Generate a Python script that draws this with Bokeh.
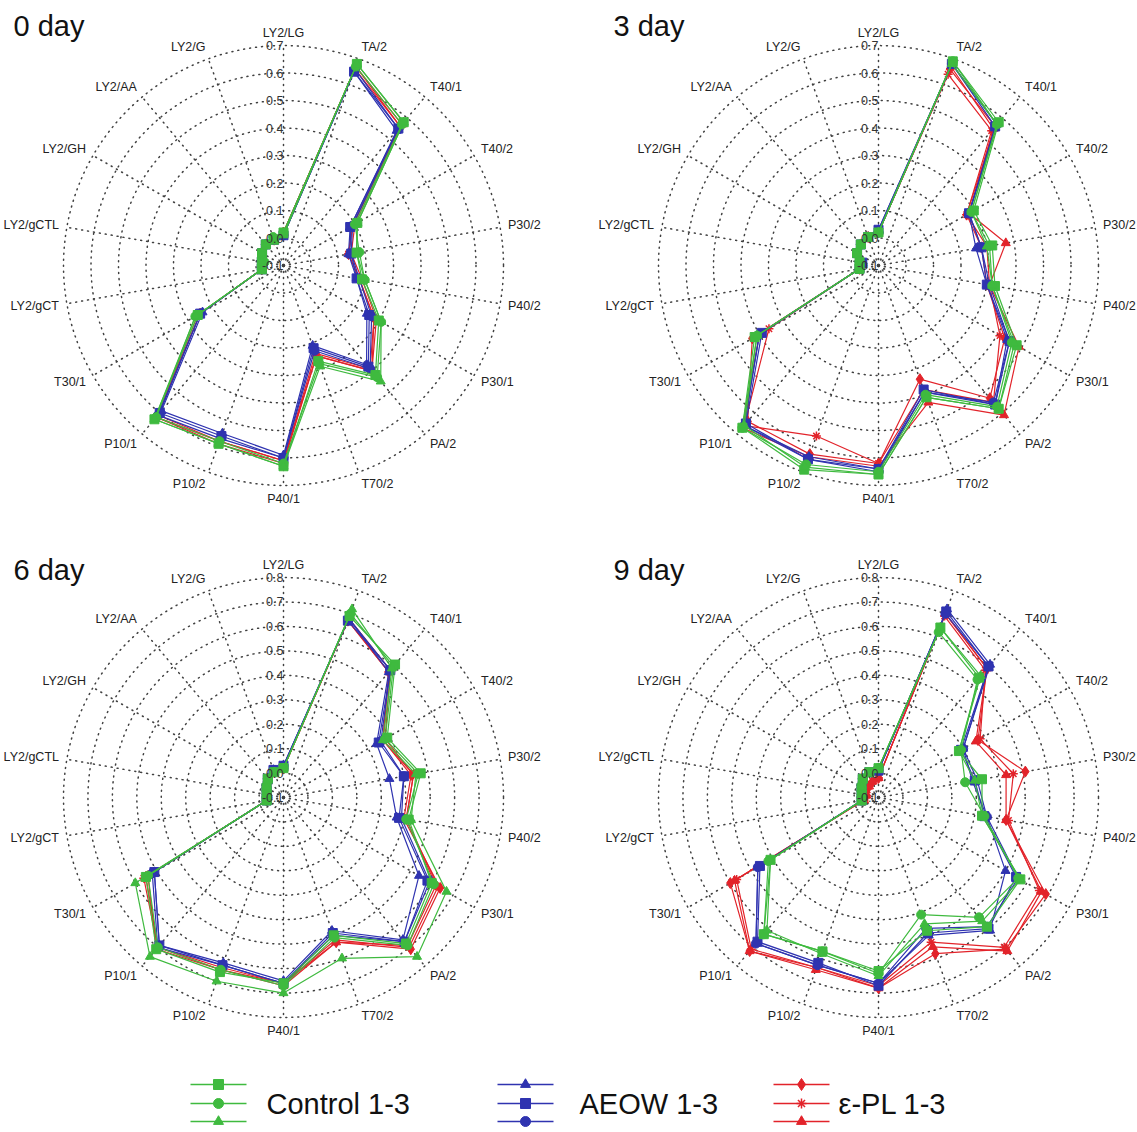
import math
from bokeh.plotting import figure
from bokeh.models import Range1d, Label
from bokeh.layouts import column, row
from bokeh.embed import file_html
from bokeh.resources import INLINE
from bokeh.core.properties import value

# ---------------- data ----------------
AXES = ["LY2/LG", "TA/2", "T40/1", "T40/2", "P30/2", "P40/2", "P30/1", "PA/2",
        "T70/2", "P40/1", "P10/2", "P10/1", "T30/1", "LY2/gCT", "LY2/gCTL",
        "LY2/GH", "LY2/AA", "LY2/G"]

TICKS_A = [-0.1, 0.0, 0.1, 0.2, 0.3, 0.4, 0.5, 0.6, 0.7]
TICK_LABELS_A = ["-0.1", "0.0", "0.1", "0.2", "0.3", "0.4", "0.5", "0.6", "0.7"]
TICKS_B = [-0.1, 0.0, 0.1, 0.2, 0.3, 0.4, 0.5, 0.6, 0.7, 0.8]
TICK_LABELS_B = ["-0.1", "0.0", "0.1", "0.2", "0.3", "0.4", "0.5", "0.6", "0.7", "0.8"]

SERIES_NAMES = ["Control 1", "Control 2", "Control 3", "AEOW 1", "AEOW 2", "AEOW 3",
                "ε-PL 1", "ε-PL 2", "ε-PL 3"]

# day 0
d0_ctrl1 = [0.02, 0.68, 0.58, 0.21, 0.17, 0.19, 0.30, 0.42, 0.27, 0.63, 0.59, 0.63, 0.26, -0.02, -0.02, -0.01, 0.00, 0.00]
d0_ctrl2 = [0.02, 0.67, 0.57, 0.20, 0.18, 0.20, 0.31, 0.43, 0.28, 0.62, 0.58, 0.62, 0.27, -0.02, -0.03, -0.01, 0.00, 0.01]
d0_ctrl3 = [0.01, 0.68, 0.58, 0.21, 0.17, 0.20, 0.31, 0.45, 0.29, 0.63, 0.59, 0.63, 0.27, -0.02, -0.02, -0.01, 0.00, 0.00]
d0_aeow1 = [0.01, 0.65, 0.54, 0.18, 0.14, 0.17, 0.25, 0.37, 0.21, 0.59, 0.55, 0.59, 0.24, -0.02, -0.02, -0.01, 0.00, 0.00]
d0_aeow2 = [0.01, 0.65, 0.55, 0.18, 0.15, 0.17, 0.26, 0.38, 0.22, 0.60, 0.56, 0.60, 0.25, -0.02, -0.02, -0.01, 0.00, 0.00]
d0_aeow3 = [0.01, 0.66, 0.55, 0.19, 0.15, 0.18, 0.27, 0.39, 0.23, 0.60, 0.57, 0.61, 0.25, -0.02, -0.02, -0.01, 0.00, 0.00]
d0_epl1 = [0.02, 0.67, 0.56, 0.19, 0.14, 0.18, 0.28, 0.39, 0.24, 0.61, 0.58, 0.61, 0.25, -0.02, -0.02, -0.01, 0.00, 0.00]
d0_epl2 = [0.02, 0.66, 0.56, 0.19, 0.14, 0.18, 0.28, 0.40, 0.25, 0.61, 0.58, 0.62, 0.25, -0.02, -0.02, -0.01, 0.00, 0.00]
d0_epl3 = [0.02, 0.67, 0.57, 0.20, 0.15, 0.19, 0.29, 0.40, 0.25, 0.62, 0.59, 0.62, 0.26, -0.02, -0.02, -0.01, 0.00, 0.00]

# day 3
d3_ctrl1 = [0.02, 0.69, 0.58, 0.30, 0.32, 0.33, 0.48, 0.58, 0.41, 0.66, 0.69, 0.67, 0.42, -0.03, -0.03, -0.01, 0.00, 0.01]
d3_ctrl2 = [0.02, 0.69, 0.57, 0.29, 0.31, 0.32, 0.46, 0.57, 0.40, 0.65, 0.67, 0.67, 0.41, -0.03, -0.03, -0.01, 0.00, 0.01]
d3_ctrl3 = [0.02, 0.68, 0.57, 0.29, 0.30, 0.32, 0.47, 0.58, 0.41, 0.66, 0.68, 0.66, 0.41, -0.03, -0.03, -0.01, 0.00, 0.01]
d3_aeow1 = [0.03, 0.68, 0.57, 0.28, 0.26, 0.30, 0.44, 0.56, 0.39, 0.64, 0.64, 0.66, 0.40, -0.03, -0.04, -0.01, 0.00, 0.01]
d3_aeow2 = [0.03, 0.68, 0.56, 0.28, 0.28, 0.30, 0.45, 0.56, 0.38, 0.64, 0.65, 0.65, 0.39, -0.03, -0.04, -0.01, 0.00, 0.01]
d3_aeow3 = [0.02, 0.68, 0.57, 0.28, 0.28, 0.31, 0.45, 0.55, 0.39, 0.65, 0.65, 0.66, 0.40, -0.03, -0.03, -0.01, 0.00, 0.01]
d3_epl1 = [0.02, 0.66, 0.56, 0.27, 0.28, 0.30, 0.43, 0.53, 0.34, 0.62, 0.63, 0.64, 0.43, -0.03, -0.03, -0.01, 0.00, 0.01]
d3_epl2 = [0.02, 0.64, 0.54, 0.27, 0.30, 0.31, 0.41, 0.55, 0.38, 0.62, 0.56, 0.66, 0.36, -0.03, -0.03, -0.01, 0.00, 0.01]
d3_epl3 = [0.02, 0.67, 0.55, 0.28, 0.37, 0.31, 0.49, 0.61, 0.43, 0.63, 0.64, 0.67, 0.40, -0.03, -0.03, -0.01, 0.00, 0.01]

# day 6
d6_ctrl1 = [0.02, 0.69, 0.61, 0.39, 0.47, 0.42, 0.60, 0.68, 0.50, 0.66, 0.66, 0.71, 0.55, -0.03, -0.03, -0.02, 0.00, 0.01]
d6_ctrl2 = [0.02, 0.70, 0.60, 0.38, 0.46, 0.41, 0.61, 0.69, 0.51, 0.67, 0.65, 0.70, 0.54, -0.03, -0.03, -0.02, 0.00, 0.01]
d6_ctrl3 = [0.02, 0.72, 0.59, 0.37, 0.45, 0.43, 0.67, 0.75, 0.60, 0.70, 0.70, 0.75, 0.60, -0.03, -0.03, -0.02, 0.00, 0.01]
d6_aeow1 = [0.03, 0.68, 0.57, 0.34, 0.34, 0.37, 0.54, 0.66, 0.48, 0.65, 0.62, 0.69, 0.51, -0.03, -0.03, -0.02, 0.00, 0.02]
d6_aeow2 = [0.03, 0.67, 0.58, 0.35, 0.40, 0.38, 0.58, 0.67, 0.49, 0.66, 0.63, 0.69, 0.51, -0.03, -0.03, -0.02, 0.00, 0.02]
d6_aeow3 = [0.03, 0.68, 0.58, 0.36, 0.40, 0.39, 0.59, 0.67, 0.50, 0.66, 0.63, 0.70, 0.52, -0.03, -0.03, -0.02, 0.00, 0.02]
d6_epl1 = [0.02, 0.67, 0.57, 0.37, 0.43, 0.40, 0.64, 0.71, 0.53, 0.66, 0.64, 0.70, 0.55, -0.03, -0.03, -0.02, 0.00, 0.01]
d6_epl2 = [0.02, 0.67, 0.57, 0.37, 0.44, 0.41, 0.63, 0.70, 0.52, 0.66, 0.65, 0.70, 0.56, -0.03, -0.03, -0.02, 0.00, 0.01]
d6_epl3 = [0.02, 0.68, 0.58, 0.38, 0.44, 0.41, 0.62, 0.69, 0.53, 0.67, 0.65, 0.71, 0.54, -0.03, -0.03, -0.02, 0.00, 0.01]

# day 9
d9_ctrl1 = [0.02, 0.64, 0.54, 0.28, 0.33, 0.33, 0.57, 0.59, 0.48, 0.61, 0.57, 0.63, 0.41, -0.03, -0.03, -0.02, 0.00, 0.01]
d9_ctrl2 = [0.02, 0.62, 0.53, 0.29, 0.26, 0.34, 0.56, 0.54, 0.41, 0.62, 0.57, 0.63, 0.42, -0.03, -0.03, -0.02, 0.00, 0.01]
d9_ctrl3 = [0.02, 0.64, 0.55, 0.28, 0.30, 0.33, 0.57, 0.56, 0.45, 0.63, 0.58, 0.61, 0.41, -0.03, -0.03, -0.02, 0.00, 0.01]
d9_aeow1 = [0.01, 0.72, 0.61, 0.30, 0.29, 0.35, 0.50, 0.61, 0.50, 0.66, 0.63, 0.68, 0.47, -0.03, -0.03, -0.02, 0.00, 0.01]
d9_aeow2 = [0.01, 0.71, 0.60, 0.29, 0.30, 0.34, 0.55, 0.60, 0.49, 0.67, 0.62, 0.67, 0.46, -0.03, -0.03, -0.02, 0.00, 0.01]
d9_aeow3 = [0.01, 0.70, 0.60, 0.30, 0.31, 0.35, 0.56, 0.59, 0.47, 0.66, 0.63, 0.68, 0.47, -0.03, -0.03, -0.02, 0.00, 0.01]
d9_epl1 = [-0.02, 0.70, 0.59, 0.37, 0.51, 0.43, 0.69, 0.71, 0.58, 0.68, 0.64, 0.72, 0.60, -0.04, -0.05, -0.04, -0.04, -0.03]
d9_epl2 = [-0.02, 0.69, 0.58, 0.38, 0.46, 0.44, 0.66, 0.70, 0.53, 0.67, 0.64, 0.71, 0.57, -0.04, -0.05, -0.04, -0.04, -0.03]
d9_epl3 = [-0.02, 0.70, 0.59, 0.36, 0.43, 0.43, 0.67, 0.72, 0.55, 0.68, 0.65, 0.72, 0.58, -0.04, -0.05, -0.04, -0.04, -0.03]

# ---------------- styling ----------------
GREEN = "#3fba3f"
BLUE = "#2f33b0"
RED = "#e2232a"
SERIES_COLORS = [GREEN, GREEN, GREEN, BLUE, BLUE, BLUE, RED, RED, RED]
SERIES_MARKERS = ["square", "circle", "triangle", "triangle", "square", "circle",
                  "diamond", "asterisk", "triangle"]
SERIES_SIZES = [9, 9, 9, 9, 9, 9, 11, 9, 9]
DRAW_ORDER = [6, 7, 8, 3, 4, 5, 0, 1, 2]
FONT = "Liberation Sans"
R_PX = 220.0


def make_panel(title, series, ticks, tick_labels, W, H, cx, cy, tx, ty):
    rmin = ticks[0]
    rmax = ticks[-1]
    span = rmax - rmin
    k = span / R_PX  # data units per pixel
    p = figure(width=W, height=H,
               x_range=Range1d(-cx * k, (W - cx) * k),
               y_range=Range1d(-(H - cy) * k, cy * k),
               output_backend="svg", toolbar_location=None,
               x_axis_location=None, y_axis_location=None,
               min_border=0, outline_line_color=None)
    p.xgrid.visible = False
    p.ygrid.visible = False
    p.background_fill_color = "white"
    p.border_fill_color = "white"

    n = len(AXES)
    ang = [2 * math.pi * i / n for i in range(n)]

    # rings
    ring_r = [t - rmin for t in ticks[1:]]
    p.circle(x=[0] * len(ring_r), y=[0] * len(ring_r), radius=ring_r,
             fill_color=None, line_color="#404040", line_dash="1 5",
             line_width=1.5, line_cap="round")
    # spokes
    p.segment(x0=[0] * n, y0=[0] * n,
              x1=[span * math.sin(a) for a in ang],
              y1=[span * math.cos(a) for a in ang],
              line_color="#404040", line_dash="1 5", line_width=1.5, line_cap="round")
    # small dashed circle at centre
    p.scatter(x=[0], y=[0], size=13, marker="circle", fill_color=None,
              line_color="#555555", line_dash="2 2", line_width=1)

    # data
    for i in DRAW_ORDER:
        vals = series[i]
        xs = [(v - rmin) * math.sin(a) for v, a in zip(vals, ang)]
        ys = [(v - rmin) * math.cos(a) for v, a in zip(vals, ang)]
        p.line(xs + [xs[0]], ys + [ys[0]], line_color=SERIES_COLORS[i], line_width=1.2)
        p.scatter(xs, ys, marker=SERIES_MARKERS[i], size=SERIES_SIZES[i],
                  fill_color=SERIES_COLORS[i], line_color=SERIES_COLORS[i],
                  line_width=1.5 if SERIES_MARKERS[i] == "asterisk" else 1)

    # ring tick labels along the top spoke
    p.text(x=[0] * len(ticks), y=[t - rmin for t in ticks], text=tick_labels,
           text_align="right", text_baseline="middle",
           text_font=value(FONT), text_font_size="12.5px", text_color="#333333")

    # axis labels
    lx, ly, la = [], [], []
    for a in ang:
        s, c = math.sin(a), math.cos(a)
        lx.append((span + 8 * k) * s)
        ly.append((span + 13 * k) * c)
        if s > 0.1:
            la.append("left")
        elif s < -0.1:
            la.append("right")
        else:
            la.append("center")
    p.text(x=lx, y=ly, text=AXES, text_align=la, text_baseline="middle",
           text_font=value(FONT), text_font_size="12.5px", text_color="#222222")

    p.add_layout(Label(x=tx, y=H - ty, x_units="screen", y_units="screen",
                       text=title, text_font=FONT, text_font_size="29px",
                       text_baseline="top", text_color="#111111"))
    return p


W_L, W_R = 588, 549
H_TOP, H_BOT, H_LEG = 540, 532, 59
p0 = make_panel("0 day", [d0_ctrl1, d0_ctrl2, d0_ctrl3, d0_aeow1, d0_aeow2, d0_aeow3, d0_epl1, d0_epl2, d0_epl3],
                TICKS_A, TICK_LABELS_A, W_L, H_TOP, 283, 265, 13, 9)
p3 = make_panel("3 day", [d3_ctrl1, d3_ctrl2, d3_ctrl3, d3_aeow1, d3_aeow2, d3_aeow3, d3_epl1, d3_epl2, d3_epl3],
                TICKS_A, TICK_LABELS_A, W_R, H_TOP, 290, 265, 25, 9)
p6 = make_panel("6 day", [d6_ctrl1, d6_ctrl2, d6_ctrl3, d6_aeow1, d6_aeow2, d6_aeow3, d6_epl1, d6_epl2, d6_epl3],
                TICKS_B, TICK_LABELS_B, W_L, H_BOT, 283, 257, 13, 13)
p9 = make_panel("9 day", [d9_ctrl1, d9_ctrl2, d9_ctrl3, d9_aeow1, d9_aeow2, d9_aeow3, d9_epl1, d9_epl2, d9_epl3],
                TICKS_B, TICK_LABELS_B, W_R, H_BOT, 290, 257, 25, 13)

# ---------------- legend ----------------
LW = W_L + W_R
pl = figure(width=LW, height=H_LEG, x_range=Range1d(0, LW), y_range=Range1d(H_LEG, 0),
            output_backend="svg", toolbar_location=None,
            x_axis_location=None, y_axis_location=None,
            min_border=0, outline_line_color=None)
pl.xgrid.visible = False
pl.ygrid.visible = False
group_x = [190, 497, 773]
text_x = [266, 579, 838]
group_labels = ["Control 1-3", "AEOW 1-3", "ε-PL 1-3"]
row_y = [12, 31, 49]
for g in range(3):
    x0 = group_x[g]
    for r in range(3):
        i = g * 3 + r
        pl.segment(x0=[x0], y0=[row_y[r]], x1=[x0 + 56], y1=[row_y[r]],
                   line_color=SERIES_COLORS[i], line_width=1.5)
        pl.scatter(x=[x0 + 28], y=[row_y[r]], marker=SERIES_MARKERS[i],
                   size=SERIES_SIZES[i] + 1, fill_color=SERIES_COLORS[i],
                   line_color=SERIES_COLORS[i],
                   line_width=1.5 if SERIES_MARKERS[i] == "asterisk" else 1)
    pl.text(x=[text_x[g]], y=[row_y[1]], text=[group_labels[g]], text_align="left",
            text_baseline="middle", text_font=value(FONT), text_font_size="29px",
            text_color="#111111")

layout = column(row(p0, p3), row(p6, p9), pl)
open("out.html", "w").write(file_html(layout, INLINE))
